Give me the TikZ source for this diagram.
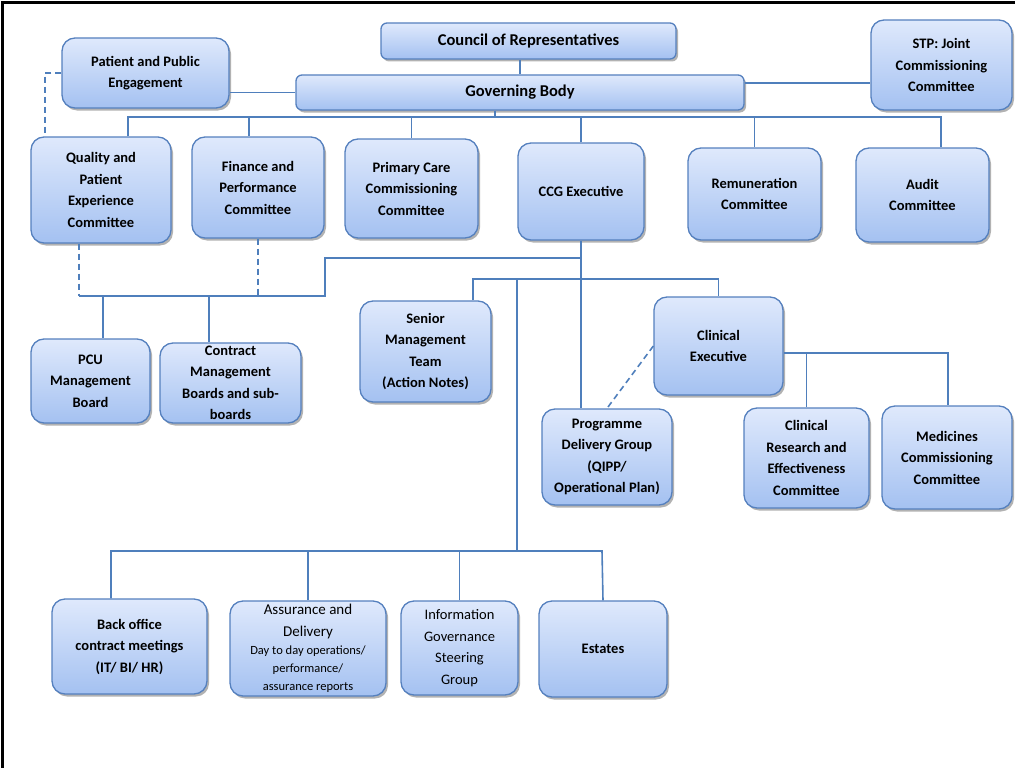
\documentclass[tikz,border=0pt]{standalone}
\usepackage{fontspec}
\setmainfont{Carlito}
\usetikzlibrary{shadows}
\definecolor{edgec}{HTML}{5580BE}
\definecolor{topc}{HTML}{DFE9FC}
\definecolor{botc}{HTML}{A4C1F1}
\definecolor{linec}{HTML}{4F7FBC}
\tikzset{
  orgbox/.style={draw=edgec, line width=1.3pt, rounded corners=13pt,
    top color=topc, bottom color=botc, align=center, inner sep=1pt,
    font=\fontsize{14.5}{21.5}\selectfont\bfseries,
    drop shadow={shadow xshift=2pt, shadow yshift=-2.5pt, opacity=0.3, fill=black}},
  barbox/.style={orgbox, rounded corners=6pt, font=\fontsize{16.5}{18}\selectfont\bfseries},
  conn/.style={draw=linec, line width=1.6pt},
  dconn/.style={conn, dash pattern=on 6pt off 4pt},
}
\begin{document}
\begin{tikzpicture}[x=1pt,y=-1pt]
\useasboundingbox (0,0) rectangle (1015,768);
\draw[line width=2.5pt] (2.5,768) -- (2.5,2.5) -- (1015,2.5);

% top
\node[barbox, minimum width=295pt, minimum height=36pt] (council) at (528.5,41) {Council of Representatives};
\node[barbox, minimum width=448pt, minimum height=35pt] (gb) at (520,92.5) {Governing Body};
\node[orgbox, minimum width=167pt, minimum height=70pt] (ppe) at (145.5,73) {Patient and Public\\Engagement};
\node[orgbox, minimum width=141pt, minimum height=90pt] (stp) at (941.5,65) {STP: Joint\\Commissioning\\Committee};

% committees
\node[orgbox, minimum width=140pt, minimum height=106pt] (quality) at (101,190) {Quality and\\Patient\\Experience\\Committee};
\node[orgbox, minimum width=132pt, minimum height=101pt] (finance) at (258,187.5) {Finance and\\Performance\\Committee};
\node[orgbox, minimum width=133pt, minimum height=99pt] (primary) at (411.5,188.5) {Primary Care\\Commissioning\\Committee};
\node[orgbox, minimum width=126pt, minimum height=97pt] (ccg) at (581,191.5) {CCG Executive};
\node[orgbox, minimum width=133pt, minimum height=92pt] (remun) at (754.5,194) {Remuneration\\Committee};
\node[orgbox, minimum width=133pt, minimum height=94pt] (audit) at (922.5,195) {Audit\\Committee};

% middle
\node[orgbox, minimum width=119pt, minimum height=84pt] (pcu) at (90.5,381) {PCU\\Management\\Board};
\node[orgbox, minimum width=141pt, minimum height=80pt] (contract) at (230.5,383) {Contract\\Management\\Boards and sub-\\boards};
\node[orgbox, minimum width=131pt, minimum height=101pt] (smt) at (425.5,351.5) {Senior\\Management\\Team\\(Action Notes)};
\node[orgbox, minimum width=129pt, minimum height=98pt] (clinexec) at (718.5,346) {Clinical\\Executive};
\node[orgbox, minimum width=130pt, minimum height=96pt] (pdg) at (607,457) {Programme\\Delivery Group\\(QIPP/\\Operational Plan)};
\node[orgbox, minimum width=125pt, minimum height=100pt] (cre) at (806.5,458) {Clinical\\Research and\\Effectiveness\\Committee};
\node[orgbox, minimum width=130pt, minimum height=103pt] (med) at (947,457.5) {Medicines\\Commissioning\\Committee};

% bottom
\node[orgbox, minimum width=155pt, minimum height=95pt] (backoffice) at (129.5,646.5) {Back office\\contract meetings\\(IT/ BI/ HR)};
\node[orgbox, minimum width=156pt, minimum height=95pt, font=\fontsize{12.5}{18}\selectfont] (assurance) at (308,648.5)
  {{\fontsize{15}{18}\selectfont Assurance and}\\[4pt]{\fontsize{15}{18}\selectfont Delivery}\\Day to day operations/\\performance/\\assurance reports};
\node[orgbox, minimum width=117pt, minimum height=94pt, font=\fontsize{14.5}{21.5}\selectfont] (info) at (459.5,648) {Information\\Governance\\Steering\\Group};
\node[orgbox, minimum width=128pt, minimum height=96pt] (estates) at (603,649) {Estates};

% coordinates
\coordinate (gs) at (0,83);
\coordinate (bL) at (128,117);
\coordinate (bR) at (941,117);
\coordinate (bG) at (495,117);
\coordinate (bF) at (249,117);
\coordinate (qd) at (79,296);
\coordinate (j1) at (325,296);
\coordinate (j2) at (325,258);
\coordinate (pd) at (103,296);
\coordinate (cd) at (209,296);
\coordinate (s1) at (473,279);
\coordinate (spine) at (517,279);
\coordinate (spineB) at (517,551);
\coordinate (bb1) at (111,551);
\coordinate (bb2) at (602,551);
\coordinate (ce) at (948,353);
\coordinate (pq) at (45,73);

% connectors
\draw[conn] (gb.north) -- (gb.north |- council.south);
\draw[conn] (gb.west) -- (gb.west -| ppe.east);
\draw[conn] (gb.east |- gs) -- (stp.west |- gs);
\draw[conn] (bG |- gb.south) -- (bG);
\draw[conn] (bL |- quality.north) -- (bL) -- (bR) -- (bR |- audit.north);
\draw[conn] (bF) -- (bF |- finance.north);
\draw[conn] (primary.north) -- (primary.north |- bL);
\draw[conn] (ccg.north) -- (ccg.north |- bL);
\draw[conn] (remun.north) -- (remun.north |- bL);

\draw[dconn] (ppe.west) -- (pq) -- (pq |- quality.north);
\draw[dconn] (qd |- quality.south) -- (qd);
\draw[dconn] (finance.south) -- (finance.south |- qd);
\draw[conn] (qd) -- (j1) -- (j2) -- (j2 -| ccg.south);
\draw[conn] (ccg.south) -- (ccg.south |- pdg.north);
\draw[conn] (pd) -- (pd |- pcu.north);
\draw[conn] (cd) -- (cd |- contract.north);

\draw[conn] (s1 |- smt.north) -- (s1) -- (s1 -| clinexec.north) -- (clinexec.north);
\draw[conn] (spine) -- (spineB);
\draw[conn] (bb1 |- backoffice.north) -- (bb1) -- (bb2) -- (estates.north);
\draw[conn] (assurance.north) -- (assurance.north |- bb1);
\draw[conn] (info.north) -- (info.north |- bb1);

\draw[conn] (clinexec.east |- ce) -- (ce) -- (ce |- med.north);
\draw[conn] (cre.north) -- (cre.north |- ce);
\draw[dconn] (clinexec.west) -- (pdg.north);
\end{tikzpicture}
\end{document}
